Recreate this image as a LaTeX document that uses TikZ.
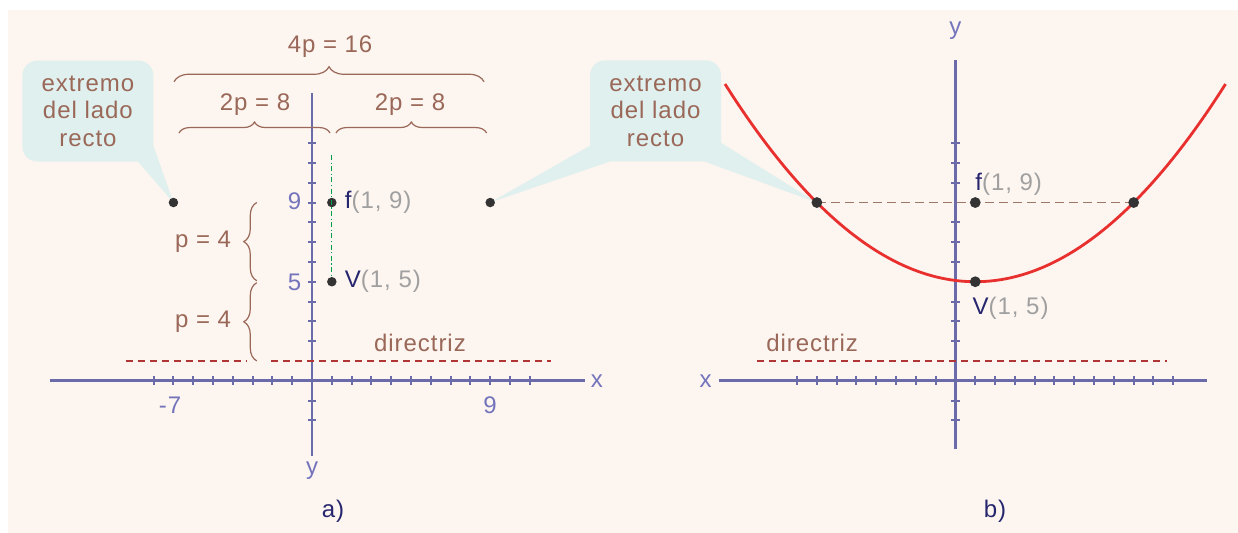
\documentclass[tikz,border=0pt]{standalone}
\usepackage{fontspec}
\setmainfont[LetterSpace=4]{Liberation Sans}
\usetikzlibrary{calc,decorations.pathreplacing,positioning}
\definecolor{bgpeach}{HTML}{FDF5F0}
\definecolor{callbg}{HTML}{E0F0EE}
\definecolor{brownlbl}{HTML}{9A6858}
\definecolor{axisblue}{HTML}{6B6BAA}
\definecolor{numblue}{HTML}{7474BC}
\definecolor{navy}{HTML}{26266E}
\definecolor{coordgray}{HTML}{A0A0A0}
\definecolor{parared}{HTML}{E8302F}
\definecolor{dirred}{HTML}{B03535}
\definecolor{latusbrown}{HTML}{9C7868}
\definecolor{symgreen}{HTML}{00A04A}
\definecolor{dotgray}{HTML}{333333}
\tikzset{
  axis/.style={axisblue, line width=2.6pt},
  axtick/.style={axisblue, line width=2pt},
  txt/.style={font=\fontsize{24}{27.5}\selectfont, inner sep=0pt},
  numlbl/.style={txt, text=numblue},
  lbl/.style={txt, text=brownlbl},
  ptlbl/.style={txt, text=coordgray},
  panel/.style={txt, text=navy},
  callout/.style={txt, text=brownlbl, fill=callbg, rounded corners=15pt, align=center,
    minimum width=131pt, minimum height=101pt},
  bracemark/.style={decorate, brownlbl, line width=1.2pt},
  directrix/.style={dirred, line width=1.8pt, dash pattern=on 7pt off 5pt},
  latus/.style={latusbrown, line width=1.8pt, dash pattern=on 9pt off 5pt},
  symaxis/.style={symgreen, line width=1.3pt, dash pattern=on 5pt off 2.5pt on 1.2pt off 2.5pt},
  curve/.style={parared, line width=2.8pt},
  dotA/.style={circle, fill=dotgray, inner sep=0pt, minimum size=9.5pt},
  dotB/.style={circle, fill=dotgray, inner sep=0pt, minimum size=10.8pt}
}
\begin{document}
\begin{tikzpicture}[x=19.8pt, y=19.8pt]
  \useasboundingbox (-15.76,-7.69) rectangle (46.77,19.23);
  \fill[bgpeach] (-15.35,-7.69) rectangle (46.77,18.72);

  \coordinate (oB) at (32.5,0);
  % ends of the latus rectum
  \coordinate (endAl) at (-7,9);
  \coordinate (endAr) at (9,9);
  \coordinate (endBl) at ($(oB)+(-7,9)$);
  \coordinate (endBr) at ($(oB)+(9,9)$);

  % callouts
  \node[callout] (noteL) at (-11.32,13.62) {extremo\\del lado\\recto};
  \fill[callbg] ($(noteL.south east)+(-0.78,0)$) -- (endAl)
    -- ($(noteL.south east)+(0,0.78)$) -- cycle;
  \node[callout] (noteR) at (17.35,13.63) {extremo\\del lado\\recto};
  \fill[callbg] ($(noteR.south west)+(1.0,0)$) -- (endAr)
    -- ($(noteR.south west)+(0,0.8)$) -- cycle;
  \fill[callbg] ($(noteR.south east)+(0,0.94)$) -- (endBl)
    -- ($(noteR.south east)+(-0.84,0)$) -- cycle;

  % panel a
  \draw[axis] (-13.24,0) -- (13.8,0);
  \draw[axis] (0,-3.8) -- (0,14.55);
  \foreach \i in {-8,...,-1,1,2,...,11}
    \draw[axtick] (\i,-0.22) -- (\i,0.22);
  \foreach \j in {-2,-1,2,3,...,12}
    \draw[axtick] (-0.22,\j) -- (0.22,\j);
  \node[numlbl] (xA) at (14.39,0) {x};
  \node[numlbl] (yA) at (0,-4.56) {y};
  \node[numlbl] (m7A) at (-7.17,-1.23) {-7};
  \node[numlbl] (p9A) at (8.99,-1.23) {9};
  \node[numlbl] (y9A) at (-0.88,9.07) {9};
  \node[numlbl] (y5A) at (-0.88,4.95) {5};

  \draw[directrix] (-9.4,1) -- (-3.3,1);
  \draw[directrix] (-2.05,1) -- (12.06,1);
  \node[lbl] (dirA) at (5.45,1.9) {directriz};

  % braces
  \draw[bracemark, decoration={brace, amplitude=15pt}] (-6.97,15.1) -- (8.69,15.1);
  \draw[bracemark, decoration={brace, amplitude=11pt}] (-6.72,12.51) -- (0.91,12.51);
  \draw[bracemark, decoration={brace, amplitude=11pt}] (1.21,12.51) -- (8.82,12.51);
  \draw[bracemark, decoration={brace, amplitude=13pt}] (-2.79,5.05) -- (-2.79,9);
  \draw[bracemark, decoration={brace, amplitude=13pt}] (-2.79,1) -- (-2.79,4.95);
  \node[lbl] (fourp) at (0.91,16.87) {4p = 16};
  \node[lbl] (twopL) at (-2.88,13.97) {2p = 8};
  \node[lbl] (twopR) at (4.95,13.97) {2p = 8};
  \node[lbl] (pUp) at (-5.5,7.02) {p = 4};
  \node[lbl] (pLow) at (-5.5,2.98) {p = 4};

  \node[dotA] (lA) at (endAl) {};
  \node[dotA] (rA) at (endAr) {};
  \node[dotA] (fA) at (1,9) {};
  \node[dotA] (vA) at (1,5) {};
  \coordinate (symtop) at (1,11.4);
  \draw[symaxis] (symtop) -- (vA);
  \node[ptlbl, right=8pt of fA] (fAl) {\textcolor{navy}{f}(1, 9)};
  \node[ptlbl, right=8pt of vA] (vAl) {\textcolor{navy}{V}(1, 5)};
  \node[panel] (capA) at (1.06,-6.6) {a)};

  % panel b
  \begin{scope}[shift={(oB)}]
    \draw[axis] (-11.96,0) -- (12.7,0);
    \draw[axis] (0,-3.45) -- (0,16.2);
    \foreach \i in {-8,...,-1,1,2,...,11}
      \draw[axtick] (\i,-0.22) -- (\i,0.22);
    \foreach \j in {-2,-1,2,3,4,6,7,8,10,11,12}
      \draw[axtick] (-0.22,\j) -- (0.22,\j);
    \node[numlbl] (xB) at (-12.62,0) {x};
    \node[numlbl] (yB) at (0,17.7) {y};

    \draw[directrix] (-10,1) -- (10.7,1);
    \node[lbl] (dirB) at (-7.24,1.9) {directriz};

    \draw[curve] plot[domain=-11.64:13.64, samples=90, smooth] (\x,{(\x-1)*(\x-1)/16+5});
    \draw[latus] (endBl) -- (endBr);

    \node[dotB] (lB) at (endBl) {};
    \node[dotB] (rB) at (endBr) {};
    \node[dotB] (fB) at (1,9) {};
    \node[dotB] (vB) at (1,5) {};
    \node[ptlbl, anchor=west] (fBl) at ($(fB)+(0,0.94)$) {\textcolor{navy}{f}(1, 9)};
    \node[ptlbl, anchor=west] (vBl) at ($(vB)+(-0.14,-1.34)$) {\textcolor{navy}{V}(1, 5)};
    \node[panel] (capB) at (2.0,-6.6) {b)};
  \end{scope}
\end{tikzpicture}
\end{document}
